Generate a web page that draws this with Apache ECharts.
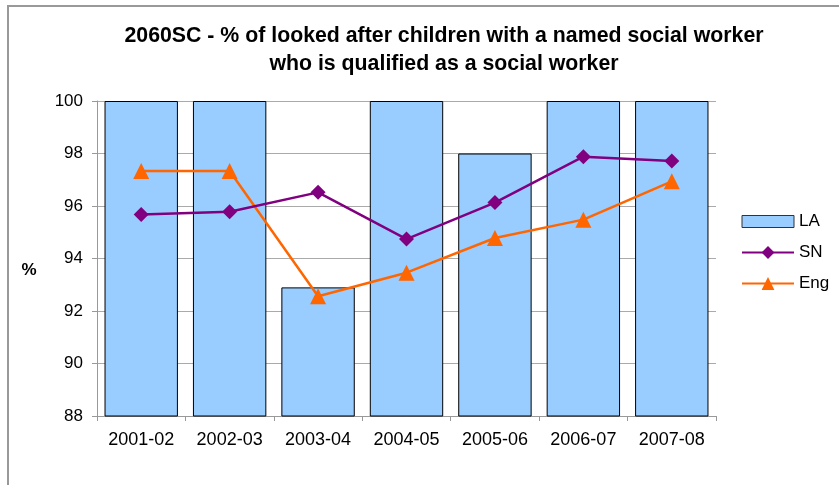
<!DOCTYPE html>
<html>
<head>
<meta charset="utf-8">
<script src="https://cdn.jsdelivr.net/npm/echarts@6/dist/echarts.min.js"></script>
<style>
html,body{margin:0;padding:0;background:#fff;}
#c{width:839px;height:485px;}
</style>
</head>
<body>
<div id="c"></div>
<script>
const categories = ['2001-02','2002-03','2003-04','2004-05','2005-06','2006-07','2007-08'];
const laValues = [100, 100, 92.9, 100, 98, 100, 100];
const snValues = [95.68, 95.78, 96.52, 94.74, 96.13, 97.88, 97.71];
const engValues = [97.33, 97.33, 92.56, 93.46, 94.78, 95.48, 96.94];
const yTicks = [88, 90, 92, 94, 96, 98, 100];

const FONT = '"Liberation Sans", Arial, sans-serif';
const chart = echarts.init(document.getElementById('c'), null, {renderer: 'canvas'});
chart.setOption({
  animation: false,
  backgroundColor: '#fff',
  title: {
    text: '2060SC - % of looked after children with a named social worker\nwho is qualified as a social worker',
    left: 444,
    top: 22,
    textAlign: 'center',
    padding: 0,
    textStyle: {fontFamily: FONT, fontSize: 21.3, fontWeight: 'bold', color: '#000', lineHeight: 28}
  },
  graphic: [
    {type: 'rect', shape: {x: 8, y: 6, width: 900, height: 600}, style: {fill: 'none', stroke: '#999', lineWidth: 2}, silent: true, z: -1},
    {type: 'text', x: 29, y: 270, style: {text: '%', font: 'bold 17px ' + FONT, fill: '#000', textAlign: 'center', textVerticalAlign: 'middle'}}
  ],
  legend: {
    orient: 'vertical',
    left: 741,
    top: 213,
    itemWidth: 52,
    itemHeight: 16,
    itemGap: 14,
    padding: 0,
    textStyle: {fontFamily: FONT, fontSize: 17, color: '#000', lineHeight: 16},
    data: [
      {name: 'LA', icon: 'path://M0,0L0,0M0,2L52,2L52,14L0,14ZM0,16L0,16', itemStyle: {borderColor: '#333', borderWidth: 1}},
      {name: 'SN'},
      {name: 'Eng'}
    ]
  },
  grid: {left: 97, right: 123, top: 101, bottom: 69, containLabel: false},
  xAxis: {
    type: 'category',
    data: categories,
    boundaryGap: true,
    axisLine: {lineStyle: {color: '#999', width: 1}},
    axisTick: {show: true, length: 5, inside: false, lineStyle: {color: '#999'}},
    axisLabel: {fontFamily: FONT, fontSize: 18, color: '#000', margin: 15}
  },
  yAxis: {
    type: 'value',
    min: yTicks[0],
    max: yTicks[yTicks.length - 1],
    interval: 2,
    axisLine: {show: true, lineStyle: {color: '#999', width: 1}},
    axisTick: {show: true, length: 5, inside: false, lineStyle: {color: '#999'}},
    axisLabel: {fontFamily: FONT, fontSize: 17, color: '#000', margin: 14},
    splitLine: {show: true, lineStyle: {color: '#aaa', width: 1}}
  },
  series: [
    {
      name: 'LA', type: 'bar', data: laValues,
      barCategoryGap: '17%',
      itemStyle: {color: '#99CCFF', borderColor: '#000', borderWidth: 1},
      z: 1
    },
    {
      name: 'SN', type: 'line', data: snValues,
      symbol: 'diamond', symbolSize: 15,
      lineStyle: {color: '#800080', width: 2.5},
      itemStyle: {color: '#800080'},
      z: 3
    },
    {
      name: 'Eng', type: 'line', data: engValues,
      symbol: 'triangle', symbolSize: 16,
      lineStyle: {color: '#FF6600', width: 2.5},
      itemStyle: {color: '#FF6600'},
      z: 2
    }
  ]
});
</script>
</body>
</html>
